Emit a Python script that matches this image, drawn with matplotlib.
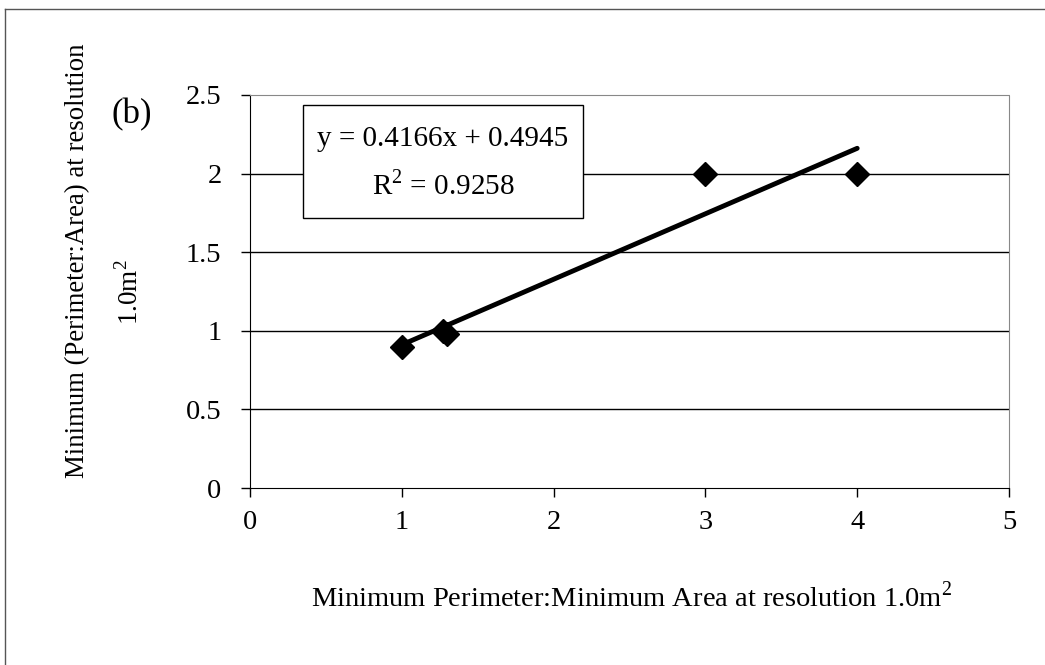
import matplotlib
matplotlib.use("Agg")
import matplotlib.pyplot as plt
from matplotlib.patches import Rectangle
from matplotlib.lines import Line2D

plt.rcParams['font.family'] = ['Liberation Serif', 'DejaVu Serif']
plt.rcParams['mathtext.fontset'] = 'custom'
plt.rcParams['mathtext.rm'] = 'Liberation Serif'

# data
x_vals = [1.0, 1.27, 1.30, 3.0, 4.0]
y_vals = [0.90, 1.00, 0.98, 2.0, 2.0]
slope = 0.4166
intercept = 0.4945
r2 = 0.9258
x_ticks = [0, 1, 2, 3, 4, 5]
y_ticks = [0, 0.5, 1, 1.5, 2, 2.5]
y_tick_labels = ['0', '0.5', '1', '1.5', '2', '2.5']

fig = plt.figure(figsize=(10.45, 6.65), dpi=100)
ax = fig.add_axes([250/1045, 1-488/665, (1009-250)/1045, (488-95)/665])

ax.set_xlim(0, 5)
ax.set_ylim(0, 2.5)
ax.set_xticks(x_ticks)
ax.set_yticks(y_ticks)
ax.set_yticklabels(y_tick_labels)
ax.tick_params(axis='both', labelsize=20.5, direction='out', length=6.5, width=1, colors='black')
ax.tick_params(axis='x', pad=9)
ax.tick_params(axis='y', pad=14)

for yv in y_ticks[1:-1]:
    ax.axhline(yv, color='black', lw=1.0, zorder=1)

ax.spines['left'].set_color('black')
ax.spines['bottom'].set_color('black')
ax.spines['top'].set_color('#888888')
ax.spines['right'].set_color('#888888')
ax.spines['top'].set_linestyle((0, (1, 1)))
ax.spines['right'].set_linestyle((0, (1, 1)))

xs = [min(x_vals), max(x_vals)]
ys = [slope * v + intercept for v in xs]
ax.plot(xs, ys, color='black', lw=3.5, solid_capstyle='round', zorder=3)
ax.plot(x_vals, y_vals, linestyle='none', marker='D', markersize=12,
        color='black', zorder=4)

# equation box
bx0, bx1 = (303-250)/759, (583-250)/759
by0, by1 = (488-218)/393, (488-105)/393
ax.add_patch(Rectangle((bx0, by0), bx1-bx0, by1-by0, transform=ax.transAxes,
                       facecolor='white', edgecolor='black', lw=1.0, zorder=5))
cx = (bx0 + bx1) / 2
ax.text(cx, (488-139)/393, 'y = %.4fx + %.4f' % (slope, intercept),
        transform=ax.transAxes, ha='center', va='center', fontsize=21, zorder=6)
ax.text(cx, (488-185)/393, 'R$^2$ = %.4f' % r2,
        transform=ax.transAxes, ha='center', va='center', fontsize=21, zorder=6)

fig.text(132/1045, 1-115/665, '(b)', ha='center', va='center', fontsize=25)
fig.text(78/1045, 1-261/665, 'Minimum (Perimeter:Area) at resolution',
         rotation=90, ha='center', va='center', fontsize=19.3)
fig.text(130/1045, 1-292/665, '1.0m$^2$',
         rotation=90, ha='center', va='center', fontsize=19.5)
fig.text(632/1045, 1-597/665, 'Minimum Perimeter:Minimum Area at resolution 1.0m$^2$',
         ha='center', va='center', fontsize=20.5)

# outer frame (left and top visible)
fig.add_artist(Line2D([5/1045, 5/1045], [0, 1-9/665], transform=fig.transFigure,
                      color='#555555', lw=1))
fig.add_artist(Line2D([5/1045, 1], [1-9/665, 1-9/665], transform=fig.transFigure,
                      color='#555555', lw=1))

fig.savefig('out.png', dpi=100)
